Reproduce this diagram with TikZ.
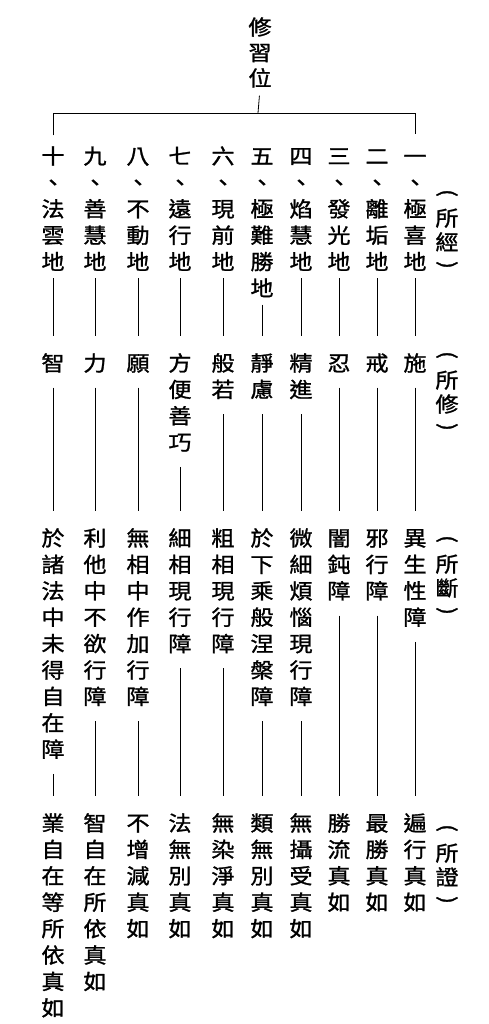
\documentclass[tikz,border=0pt]{standalone}
\usepackage{fontspec}
\newfontfamily\cjk[FakeStretch=1.1,FakeBold=1.2]{Noto Sans CJK TC}
\def\pitch{26.4}
\tikzset{
  ch/.style={font=\cjk\fontsize{21}{21}\selectfont, inner sep=0pt, text height=18.48pt, text depth=2.52pt},
  par/.style={font=\cjk\fontsize{21}{21}\selectfont, inner sep=0pt, rotate=-90},
  tline/.style={line width=0.8pt, black},
  lone/.style={tline, shorten <=6pt, shorten >=16pt},
  ltwo/.style={tline, shorten <=14pt, shorten >=16pt},
}
\newcommand\vtext[4]{%
  \foreach \ch [count=\k] in {#4}{%
    \node[ch] (#1-\k) at (#2,{#3+(\k-1)*\pitch}) {\ch};
  }}
\newcommand\vlabel[4]{% name, x, y of first inner char, second char
  \node[par] (#1-o) at (#2,{#3-25}) {(};
  \node[ch] (#1-a) at (#2,#3) {所};
  \node[ch] (#1-b) at (#2,{#3+24}) {#4};
  \node[par] (#1-c) at (#2,{#3+47}) {)};
}
\begin{document}
\begin{tikzpicture}[x=1pt,y=-1pt]
\fill[white] (0,0) rectangle (488,1024);
\useasboundingbox (0,0) rectangle (488,1024);
% title
\node[ch] (t-1) at (260,27) {修};
\node[ch] (t-2) at (260,52.5) {習};
\node[ch] (t-3) at (260,78) {位};
\coordinate (j) at (258,113);
% columns
\vtext{a1}{415}{156}{一,、,極,喜,地}
\vtext{b1}{415}{363}{施}
\vtext{c1}{415}{538}{異,生,性,障}
\vtext{d1}{415}{823}{遍,行,真,如}
\vtext{a2}{377}{156}{二,、,離,垢,地}
\vtext{b2}{377}{363}{戒}
\vtext{c2}{377}{538}{邪,行,障}
\vtext{d2}{377}{823}{最,勝,真,如}
\vtext{a3}{339}{156}{三,、,發,光,地}
\vtext{b3}{339}{363}{忍}
\vtext{c3}{339}{538}{闇,鈍,障}
\vtext{d3}{339}{823}{勝,流,真,如}
\vtext{a4}{301}{156}{四,、,焰,慧,地}
\vtext{b4}{301}{363}{精,進}
\vtext{c4}{301}{538}{微,細,煩,惱,現,行,障}
\vtext{d4}{301}{823}{無,攝,受,真,如}
\vtext{a5}{262}{156}{五,、,極,難,勝,地}
\vtext{b5}{262}{363}{靜,慮}
\vtext{c5}{262}{538}{於,下,乘,般,涅,槃,障}
\vtext{d5}{262}{823}{類,無,別,真,如}
\vtext{a6}{223}{156}{六,、,現,前,地}
\vtext{b6}{223}{363}{般,若}
\vtext{c6}{223}{538}{粗,相,現,行,障}
\vtext{d6}{223}{823}{無,染,淨,真,如}
\vtext{a7}{180}{156}{七,、,遠,行,地}
\vtext{b7}{180}{363}{方,便,善,巧}
\vtext{c7}{180}{538}{細,相,現,行,障}
\vtext{d7}{180}{823}{法,無,別,真,如}
\vtext{a8}{138}{156}{八,、,不,動,地}
\vtext{b8}{138}{363}{願}
\vtext{c8}{138}{538}{無,相,中,作,加,行,障}
\vtext{d8}{138}{823}{不,增,減,真,如}
\vtext{a9}{95}{156}{九,、,善,慧,地}
\vtext{b9}{95}{363}{力}
\vtext{c9}{95}{538}{利,他,中,不,欲,行,障}
\vtext{d9}{95}{823}{智,自,在,所,依,真,如}
\vtext{a10}{53}{156}{十,、,法,雲,地}
\vtext{b10}{53}{363}{智}
\vtext{c10}{53}{538}{於,諸,法,中,未,得,自,在,障}
\vtext{d10}{53}{823}{業,自,在,等,所,依,真,如}
% side labels
\vlabel{p1}{447}{218}{經}
\vlabel{p2}{447}{380}{修}
\vlabel{p3}{447}{564}{斷}
\vlabel{p4}{447}{853}{證}
% tree top
\draw[tline, shorten <=7pt] (t-3.south) -- (j);
\draw[tline, shorten <=10pt, shorten >=11pt] (a10-1.north) -- (a10-1.north |- j) -- (a1-1.north |- j) -- (a1-1.north);
% connectors
\draw[lone] (a1-5.south) -- (b1-1.north);
\draw[ltwo] (b1-1.south) -- (c1-1.north);
\draw[ltwo] (c1-4.south) -- (d1-1.north);
\draw[lone] (a2-5.south) -- (b2-1.north);
\draw[ltwo] (b2-1.south) -- (c2-1.north);
\draw[ltwo] (c2-3.south) -- (d2-1.north);
\draw[lone] (a3-5.south) -- (b3-1.north);
\draw[ltwo] (b3-1.south) -- (c3-1.north);
\draw[ltwo] (c3-3.south) -- (d3-1.north);
\draw[lone] (a4-5.south) -- (b4-1.north);
\draw[ltwo] (b4-2.south) -- (c4-1.north);
\draw[ltwo] (c4-7.south) -- (d4-1.north);
\draw[lone] (a5-6.south) -- (b5-1.north);
\draw[ltwo] (b5-2.south) -- (c5-1.north);
\draw[ltwo] (c5-7.south) -- (d5-1.north);
\draw[lone] (a6-5.south) -- (b6-1.north);
\draw[ltwo] (b6-2.south) -- (c6-1.north);
\draw[ltwo] (c6-5.south) -- (d6-1.north);
\draw[lone] (a7-5.south) -- (b7-1.north);
\draw[ltwo] (b7-4.south) -- (c7-1.north);
\draw[ltwo] (c7-5.south) -- (d7-1.north);
\draw[lone] (a8-5.south) -- (b8-1.north);
\draw[ltwo] (b8-1.south) -- (c8-1.north);
\draw[ltwo] (c8-7.south) -- (d8-1.north);
\draw[lone] (a9-5.south) -- (b9-1.north);
\draw[ltwo] (b9-1.south) -- (c9-1.north);
\draw[ltwo] (c9-7.south) -- (d9-1.north);
\draw[lone] (a10-5.south) -- (b10-1.north);
\draw[ltwo] (b10-1.south) -- (c10-1.north);
\draw[ltwo] (c10-9.south) -- (d10-1.north);
\end{tikzpicture}
\end{document}
